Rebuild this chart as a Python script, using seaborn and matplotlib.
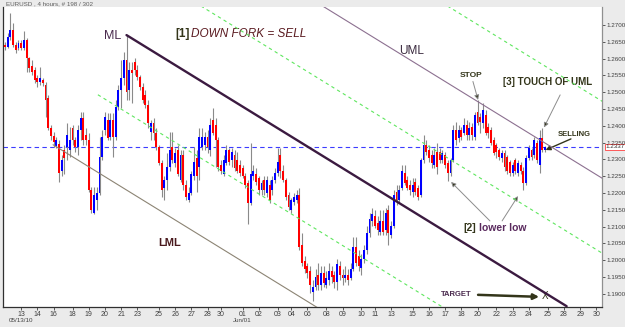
import numpy as np
import pandas as pd
import matplotlib
matplotlib.use("Agg")
import matplotlib.pyplot as plt
from matplotlib.transforms import blended_transform_factory
import seaborn as sns

# EURUSD 4h candles, bar 0 = first visible bar
opens = [
    1.2640, 1.2634, 1.2664, 1.2685, 1.2640, 1.2631, 1.2646, 1.2631, 1.2655, 1.2601,
    1.2577, 1.2565, 1.2542, 1.2530, 1.2536, 1.2521, 1.2482, 1.2393, 1.2369, 1.2339,
    1.2345, 1.2267, 1.2327, 1.2336, 1.2327, 1.2393, 1.2357, 1.2336, 1.2387, 1.2422,
    1.2372, 1.2357, 1.2208, 1.2142, 1.2178, 1.2199, 1.2306, 1.2387, 1.2416, 1.2366,
    1.2416, 1.2366, 1.2455, 1.2506, 1.2542, 1.2595, 1.2506, 1.2565, 1.2589, 1.2565,
    1.2544, 1.2515, 1.2491, 1.2461, 1.2381, 1.2407, 1.2378, 1.2336, 1.2288, 1.2214,
    1.2238, 1.2276, 1.2336, 1.2288, 1.2327, 1.2238, 1.2312, 1.2223, 1.2178, 1.2199,
    1.2252, 1.2303, 1.2276, 1.2336, 1.2342, 1.2366, 1.2327, 1.2416, 1.2401, 1.2357,
    1.2282, 1.2258, 1.2288, 1.2327, 1.2297, 1.2312, 1.2297, 1.2282, 1.2273, 1.2252,
    1.2229, 1.2169, 1.2252, 1.2258, 1.2246, 1.2208, 1.2238, 1.2199, 1.2223, 1.2208,
    1.2238, 1.2261, 1.2312, 1.2267, 1.2238, 1.2193, 1.2148, 1.2172, 1.2178, 1.2193,
    1.2044, 1.1999, 1.1984, 1.1969, 1.1904, 1.1919, 1.1955, 1.1925, 1.1963, 1.1925,
    1.1940, 1.1969, 1.1955, 1.1934, 1.1984, 1.1955, 1.1946, 1.1955, 1.1946, 1.1975,
    1.2038, 1.2014, 1.1978, 1.2005, 1.2029, 1.2080, 1.2118, 1.2133, 1.2112, 1.2083,
    1.2118, 1.2089, 1.2148, 1.2074, 1.2103, 1.2202, 1.2178, 1.2214, 1.2261, 1.2238,
    1.2223, 1.2202, 1.2232, 1.2214, 1.2193, 1.2297, 1.2342, 1.2327, 1.2312, 1.2282,
    1.2321, 1.2321, 1.2297, 1.2312, 1.2288, 1.2261, 1.2297, 1.2387, 1.2363, 1.2387,
    1.2378, 1.2401, 1.2372, 1.2395, 1.2366, 1.2440, 1.2425, 1.2407, 1.2431, 1.2395,
    1.2387, 1.2357, 1.2342, 1.2327, 1.2303, 1.2318, 1.2306, 1.2291, 1.2261, 1.2297,
    1.2261, 1.2282, 1.2267, 1.2229, 1.2303, 1.2327, 1.2312, 1.2348, 1.2282, 1.2363,
    1.2327,
]
highs = [
    1.2649, 1.2676, 1.2735, 1.2706, 1.2649, 1.2655, 1.2655, 1.2682, 1.2661, 1.2604,
    1.2595, 1.2574, 1.2550, 1.2574, 1.2542, 1.2530, 1.2491, 1.2401, 1.2381, 1.2366,
    1.2357, 1.2312, 1.2342, 1.2407, 1.2395, 1.2401, 1.2366, 1.2401, 1.2440, 1.2440,
    1.2393, 1.2378, 1.2217, 1.2217, 1.2217, 1.2366, 1.2387, 1.2440, 1.2437, 1.2437,
    1.2437, 1.2476, 1.2521, 1.2595, 1.2619, 1.2670, 1.2589, 1.2589, 1.2601, 1.2580,
    1.2550, 1.2527, 1.2506, 1.2476, 1.2416, 1.2422, 1.2393, 1.2342, 1.2297, 1.2252,
    1.2318, 1.2381, 1.2381, 1.2333, 1.2342, 1.2327, 1.2327, 1.2238, 1.2217, 1.2267,
    1.2336, 1.2327, 1.2393, 1.2393, 1.2381, 1.2387, 1.2422, 1.2452, 1.2422, 1.2366,
    1.2297, 1.2312, 1.2342, 1.2333, 1.2333, 1.2327, 1.2321, 1.2297, 1.2282, 1.2261,
    1.2238, 1.2348, 1.2282, 1.2273, 1.2252, 1.2238, 1.2252, 1.2252, 1.2238, 1.2252,
    1.2273, 1.2333, 1.2333, 1.2282, 1.2244, 1.2202, 1.2184, 1.2199, 1.2208, 1.2214,
    1.2080, 1.2014, 1.1993, 1.1984, 1.1940, 1.1975, 1.1993, 1.1984, 1.1984, 1.1969,
    1.1993, 1.1984, 1.1969, 1.2005, 1.1999, 1.1975, 1.1984, 1.1975, 1.1993, 1.2068,
    1.2068, 1.2029, 1.2020, 1.2044, 1.2103, 1.2142, 1.2154, 1.2148, 1.2133, 1.2148,
    1.2148, 1.2154, 1.2163, 1.2118, 1.2208, 1.2223, 1.2223, 1.2282, 1.2282, 1.2252,
    1.2238, 1.2244, 1.2244, 1.2223, 1.2303, 1.2372, 1.2357, 1.2342, 1.2327, 1.2333,
    1.2348, 1.2333, 1.2327, 1.2321, 1.2297, 1.2303, 1.2401, 1.2410, 1.2401, 1.2395,
    1.2422, 1.2416, 1.2410, 1.2407, 1.2440, 1.2476, 1.2437, 1.2467, 1.2446, 1.2407,
    1.2395, 1.2366, 1.2348, 1.2333, 1.2327, 1.2327, 1.2312, 1.2297, 1.2291, 1.2303,
    1.2297, 1.2291, 1.2276, 1.2312, 1.2342, 1.2333, 1.2366, 1.2357, 1.2387, 1.2393,
    1.2339,
]
lows = [
    1.2625, 1.2631, 1.2655, 1.2634, 1.2616, 1.2625, 1.2625, 1.2625, 1.2559, 1.2559,
    1.2550, 1.2527, 1.2515, 1.2521, 1.2518, 1.2425, 1.2387, 1.2357, 1.2336, 1.2333,
    1.2232, 1.2252, 1.2258, 1.2297, 1.2306, 1.2342, 1.2321, 1.2312, 1.2357, 1.2342,
    1.2342, 1.2202, 1.2142, 1.2139, 1.2148, 1.2193, 1.2297, 1.2372, 1.2357, 1.2357,
    1.2306, 1.2357, 1.2446, 1.2452, 1.2521, 1.2476, 1.2476, 1.2467, 1.2550, 1.2536,
    1.2506, 1.2467, 1.2452, 1.2393, 1.2357, 1.2357, 1.2327, 1.2282, 1.2187, 1.2178,
    1.2208, 1.2267, 1.2288, 1.2276, 1.2252, 1.2232, 1.2208, 1.2178, 1.2172, 1.2193,
    1.2238, 1.2202, 1.2238, 1.2327, 1.2327, 1.2318, 1.2309, 1.2372, 1.2276, 1.2267,
    1.2258, 1.2252, 1.2282, 1.2282, 1.2276, 1.2267, 1.2261, 1.2252, 1.2244, 1.2214,
    1.2109, 1.2163, 1.2238, 1.2223, 1.2193, 1.2193, 1.2193, 1.2187, 1.2169, 1.2193,
    1.2229, 1.2252, 1.2244, 1.2232, 1.2178, 1.2148, 1.2142, 1.2163, 1.2169, 1.2029,
    1.1984, 1.1963, 1.1946, 1.1901, 1.1880, 1.1910, 1.1910, 1.1910, 1.1919, 1.1916,
    1.1925, 1.1931, 1.1916, 1.1910, 1.1940, 1.1925, 1.1934, 1.1925, 1.1940, 1.1969,
    1.1984, 1.1969, 1.1955, 1.1993, 1.2020, 1.2068, 1.2103, 1.2095, 1.2074, 1.2074,
    1.2074, 1.2074, 1.2044, 1.2065, 1.2095, 1.2163, 1.2169, 1.2208, 1.2223, 1.2208,
    1.2193, 1.2187, 1.2193, 1.2178, 1.2187, 1.2288, 1.2312, 1.2291, 1.2273, 1.2273,
    1.2258, 1.2288, 1.2288, 1.2273, 1.2235, 1.2252, 1.2291, 1.2342, 1.2351, 1.2357,
    1.2372, 1.2357, 1.2357, 1.2357, 1.2357, 1.2401, 1.2378, 1.2393, 1.2372, 1.2363,
    1.2342, 1.2312, 1.2303, 1.2297, 1.2291, 1.2267, 1.2258, 1.2252, 1.2252, 1.2258,
    1.2252, 1.2258, 1.2208, 1.2223, 1.2297, 1.2297, 1.2303, 1.2288, 1.2261, 1.2321,
    1.2321,
]
closes = [
    1.2634, 1.2664, 1.2685, 1.2640, 1.2625, 1.2646, 1.2631, 1.2655, 1.2601, 1.2571,
    1.2559, 1.2536, 1.2530, 1.2542, 1.2527, 1.2476, 1.2393, 1.2369, 1.2351, 1.2357,
    1.2261, 1.2297, 1.2303, 1.2372, 1.2357, 1.2357, 1.2336, 1.2387, 1.2422, 1.2357,
    1.2357, 1.2208, 1.2148, 1.2193, 1.2199, 1.2306, 1.2366, 1.2425, 1.2363, 1.2416,
    1.2366, 1.2455, 1.2506, 1.2542, 1.2595, 1.2500, 1.2565, 1.2556, 1.2565, 1.2544,
    1.2515, 1.2476, 1.2461, 1.2407, 1.2407, 1.2378, 1.2336, 1.2288, 1.2208, 1.2238,
    1.2276, 1.2327, 1.2297, 1.2318, 1.2258, 1.2312, 1.2223, 1.2187, 1.2199, 1.2258,
    1.2291, 1.2252, 1.2366, 1.2366, 1.2366, 1.2336, 1.2401, 1.2378, 1.2357, 1.2276,
    1.2267, 1.2297, 1.2327, 1.2291, 1.2321, 1.2273, 1.2267, 1.2261, 1.2252, 1.2223,
    1.2169, 1.2258, 1.2267, 1.2232, 1.2208, 1.2229, 1.2208, 1.2238, 1.2178, 1.2238,
    1.2261, 1.2291, 1.2267, 1.2238, 1.2187, 1.2157, 1.2178, 1.2187, 1.2193, 1.2038,
    1.1993, 1.1975, 1.1963, 1.1925, 1.1919, 1.1949, 1.1925, 1.1963, 1.1931, 1.1946,
    1.1969, 1.1949, 1.1934, 1.1990, 1.1955, 1.1946, 1.1955, 1.1940, 1.1975, 1.2038,
    1.1993, 1.1984, 1.2005, 1.2029, 1.2080, 1.2124, 1.2139, 1.2103, 1.2089, 1.2118,
    1.2083, 1.2142, 1.2080, 1.2103, 1.2193, 1.2178, 1.2208, 1.2267, 1.2229, 1.2214,
    1.2208, 1.2223, 1.2202, 1.2187, 1.2297, 1.2342, 1.2321, 1.2303, 1.2288, 1.2312,
    1.2276, 1.2297, 1.2318, 1.2282, 1.2261, 1.2297, 1.2387, 1.2357, 1.2387, 1.2366,
    1.2401, 1.2372, 1.2393, 1.2372, 1.2431, 1.2407, 1.2410, 1.2446, 1.2378, 1.2378,
    1.2348, 1.2318, 1.2321, 1.2306, 1.2318, 1.2276, 1.2267, 1.2261, 1.2282, 1.2267,
    1.2288, 1.2267, 1.2229, 1.2303, 1.2333, 1.2306, 1.2357, 1.2297, 1.2363, 1.2327,
    1.2337,
]

# day labels on the time axis and the bar each one sits on
day_labels = ["13", "14", "16", "18", "19", "20", "21", "23", "25", "26", "27", "28",
              "30", "01", "02", "03", "04", "06", "08", "09", "10", "11", "13", "15",
              "16", "17", "18", "20", "22", "23", "24", "25", "28", "29", "30"]
day_bars = [6, 12, 18, 25, 31, 37, 43, 49, 57, 63, 69, 75, 80, 88, 94, 101, 106, 112,
            119, 125, 132, 137, 143, 151, 157, 163, 169, 175, 182, 188, 194, 201, 207,
            213, 219]

current_price = 1.2337
price_ticks = [1.19, 1.195, 1.20, 1.205, 1.21, 1.215, 1.22, 1.225, 1.23, 1.235,
               1.24, 1.245, 1.25, 1.255, 1.26, 1.265, 1.27]

# andrews pitchfork: median line from the 1.2670 high, parallels as price offsets
fork_bar = 45
fork_price = 1.2670
fork_slope = -0.000495
fork_lines = {
    "ML":   (0.0,     45,   208),
    "UML":  (0.0446,  45,   222),
    "LML":  (-0.0461, 17.8, 222),
    "mid_up":  (0.0223,  45,   222),
    "mid_low": (-0.0230, 34.4, 222),
    "warn_up": (0.0675,  45,   222),
}

sns.set_theme(style="white")
plt.rcParams["font.family"] = ["Liberation Sans", "DejaVu Sans"]

df = pd.DataFrame({"open": opens, "high": highs, "low": lows, "close": closes})
df["bar"] = np.arange(len(df))
up = df["close"] >= df["open"]

fig = plt.figure(figsize=(6.25, 3.27), dpi=100, facecolor="#ebebeb")
ax = fig.add_axes([3 / 625, 1 - 307 / 327, 599 / 625, 300 / 327])
ax.set_facecolor("white")

ax.vlines(df["bar"], df["low"], df["high"], color="#8a8a8a", lw=0.8, zorder=2)
ax.bar(df["bar"][up], (df["close"] - df["open"])[up], bottom=df["open"][up],
       width=0.72, color="#0000ff", lw=0, zorder=3)
ax.bar(df["bar"][~up], (df["close"] - df["open"])[~up], bottom=df["open"][~up],
       width=0.72, color="#ff0000", lw=0, zorder=3)

rows = []
for name, (off, b0, b1) in fork_lines.items():
    for b in (b0, b1):
        rows.append({"line": name, "bar": b,
                     "price": fork_price + fork_slope * (b - fork_bar) + off})
fork = pd.DataFrame(rows)

styles = {
    "ML": dict(color="#3b1a40", lw=1.7),
    "UML": dict(color="#8c7090", lw=0.8),
    "LML": dict(color="#8c8474", lw=0.8),
    "mid_up": dict(color="#5ee65e", lw=0.8, ls=(0, (3, 3))),
    "mid_low": dict(color="#5ee65e", lw=0.8, ls=(0, (3, 3))),
    "warn_up": dict(color="#5ee65e", lw=0.8, ls=(0, (3, 3))),
}
for name, st in styles.items():
    sns.lineplot(data=fork[fork["line"] == name], x="bar", y="price", ax=ax,
                 sort=False, zorder=4, **st)

ax.axhline(current_price, color="#3c3cff", lw=0.8, ls=(0, (4, 3)), zorder=1)

ax.set_xlim(-0.74, 221.1)
ax.set_ylim(1.18608, 1.27536)
ax.set_xlabel("")
ax.set_ylabel("")

ax.spines["top"].set_visible(False)
ax.spines["left"].set_color("#303030")
ax.spines["bottom"].set_color("#303030")
ax.spines["right"].set_color("#909090")
for s in ax.spines.values():
    s.set_linewidth(0.9)

ax.yaxis.tick_right()
ax.set_yticks(price_ticks)
ax.set_yticklabels([f"{p:.4f}" for p in price_ticks])
ax.tick_params(axis="y", which="both", right=True, length=2, width=0.6, pad=1.5,
               labelsize=4.5, colors="#404040")
ax.set_xticks(day_bars)
ax.set_xticklabels(day_labels)
ax.tick_params(axis="x", bottom=True, length=2, width=0.6, pad=1, labelsize=5,
               colors="#404040")

xb = blended_transform_factory(ax.transData, ax.transAxes)
ax.text(day_bars[0], -0.045, "05/13/10", transform=xb, ha="center", va="center",
        fontsize=4.5, color="#404040")
ax.text(day_bars[13], -0.045, "Jun/01", transform=xb, ha="center", va="center",
        fontsize=4.5, color="#404040")

yb = blended_transform_factory(ax.transAxes, ax.transData)
ax.text(1.006, current_price, f"{current_price:.4f}", transform=yb, ha="left",
        va="center", fontsize=4.5, color="#303030", zorder=6,
        bbox=dict(fc="white", ec="#ff4040", lw=0.6, pad=0.6))

fig.text(6 / 625, 1 - 4 / 327, "EURUSD , 4 hours, # 198 / 302", fontsize=4.5,
         color="#606060", ha="left", va="center")

olive = "#33351a"
ax.text(43, 1.2667, "ML", ha="right", va="center", fontsize=9, color="#4a2a4e")
ax.text(63, 1.2673, "[1]", ha="left", va="center", fontsize=8.5, color=olive,
        fontweight="bold")
ax.text(68.8, 1.2673, "DOWN FORK = SELL", ha="left", va="center", fontsize=8.5,
        color="#5a1a20", style="italic")
ax.text(146, 1.2623, "UML", ha="left", va="center", fontsize=8.5, color="#3a2a3e")
ax.text(168.5, 1.2550, "STOP", ha="left", va="center", fontsize=6, color=olive,
        fontweight="bold")
ax.text(184.4, 1.2529, "[3] TOUCH OF UML", ha="left", va="center", fontsize=7,
        color=olive, fontweight="bold")
ax.text(204.8, 1.2373, "SELLING", ha="left", va="center", fontsize=5.5, color=olive,
        fontweight="bold")
ax.text(56.7, 1.2051, "LML", ha="left", va="center", fontsize=8, color="#4a1a1e",
        fontweight="bold")
ax.text(169.6, 1.2096, "[2]", ha="left", va="center", fontsize=7.5, color=olive,
        fontweight="bold")
ax.text(175.6, 1.2096, "lower low", ha="left", va="center", fontsize=7.5,
        color="#5a2a5e", fontweight="bold")
ax.text(161.5, 1.1897, "TARGET", ha="left", va="center", fontsize=5.5,
        color="#4a2a4e", fontweight="bold")
ax.text(200, 1.1894, "X", ha="center", va="center", fontsize=7, color=olive)

arrow = dict(arrowstyle="-|>", mutation_scale=7, lw=0.7, ec="#8c8c8c", fc=olive,
             shrinkA=0, shrinkB=0)
ax.annotate("", xy=(175.2, 1.2477), xytext=(173.3, 1.2532), arrowprops=arrow)
ax.annotate("", xy=(199.6, 1.2395), xytext=(205.6, 1.2492), arrowprops=arrow)
ax.annotate("", xy=(200.2, 1.2328), xytext=(209.6, 1.2361),
            arrowprops=dict(arrow, ec=olive, lw=1.0))
ax.annotate("", xy=(165.2, 1.2233), xytext=(179.6, 1.2117), arrowprops=arrow)
ax.annotate("", xy=(190.0, 1.2191), xytext=(184.1, 1.2117), arrowprops=arrow)
ax.annotate("", xy=(197.8, 1.1891), xytext=(175.2, 1.1897),
            arrowprops=dict(arrow, ec=olive, lw=1.8, mutation_scale=8))

fig.savefig("out.png", dpi=100, facecolor=fig.get_facecolor())
